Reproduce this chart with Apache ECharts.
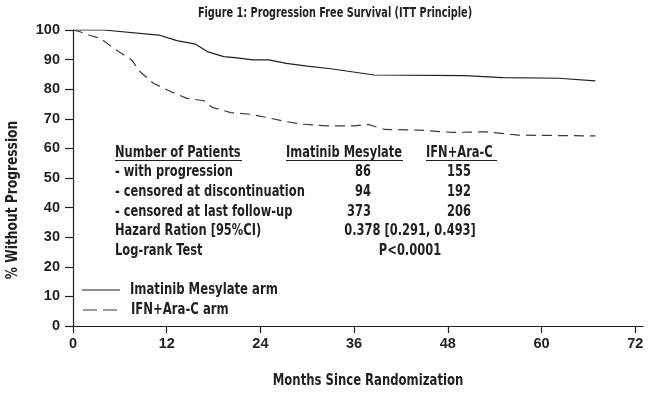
<!DOCTYPE html>
<html>
<head>
<meta charset="utf-8">
<script src="https://cdn.jsdelivr.net/npm/echarts@6/dist/echarts.min.js"></script>
<style>html,body{margin:0;padding:0;background:#fff}#c{width:656px;height:396px}</style>
</head>
<body>
<div id="c"></div>
<script>
// ---- data ----
var titleText = 'Figure 1: Progression Free Survival (ITT Principle)';
var xTicks = [0, 12, 24, 36, 48, 60, 72];
var yTicks = [0, 10, 20, 30, 40, 50, 60, 70, 80, 90, 100];
var imatinibMonths = [0, 3.9, 11, 13.3, 15.7, 17.2, 19.3, 21, 23, 25.1, 27.3, 30, 33, 38.6, 50.2, 55, 62.2, 66.9];
var imatinibPFS    = [100, 100, 98.3, 96.4, 95.2, 92.7, 91.0, 90.6, 89.9, 89.9, 88.7, 87.8, 86.9, 84.8, 84.6, 83.9, 83.7, 82.8];
var ifnMonths = [0, 0.9, 2, 3.5, 5.2, 7.5, 8.6, 10.3, 12.5, 14.6, 16.8, 17.8, 20.2, 22.8, 24.9, 26.8, 29.2, 32.6, 36, 37.8, 39.9, 44.2, 48.5, 52.8, 57, 66.9];
var ifnPFS    = [100, 99.4, 98.3, 97.2, 93.8, 89.9, 85.9, 82.0, 79.2, 76.9, 76.1, 73.9, 72.1, 71.5, 70.4, 69.3, 68.2, 67.6, 67.6, 68.1, 66.4, 66.2, 65.4, 65.6, 64.5, 64.2];
var seriesNames = ['Imatinib Mesylate arm', 'IFN+Ara-C arm'];
var tableHeaders = ['Number of Patients', 'Imatinib Mesylate', 'IFN+Ara-C'];
var rowLabels = ['- with progression', '- censored at discontinuation', '- censored at last follow-up'];
var imatinibCounts = ['86', '94', '373'];
var ifnCounts = ['155', '192', '206'];
var statLabels = ['Hazard Ration [95%CI)', 'Log-rank Test'];
var statValues = ['0.378 [0.291, 0.493]', 'P<0.0001'];
var xTitle = 'Months Since Randomization';
var yTitle = '% Without Progression';

function zip(a, b) { return a.map(function (v, i) { return [v, b[i]]; }); }

var FONT = '"DejaVu Sans Condensed", "Liberation Sans Narrow", sans-serif';
var NUMFONT = '"Liberation Sans", Arial, sans-serif';
var INK = '#231f20';
var DASHINK = '#3a3a3a';
function txt(s, x, y, align, size, sx, rot) {
  return { type: 'text', x: x, y: y, scaleX: sx || 0.85, rotation: rot || 0,
    style: { text: s, font: 'bold ' + (size || 15) + 'px ' + FONT, fill: INK, align: align || 'left', verticalAlign: 'middle' } };
}

var g = [];
var rowY0 = 153, rowStep = 19.6;
g.push(txt(tableHeaders[0], 115, rowY0));
g.push(txt(tableHeaders[1], 286, rowY0));
g.push(txt(tableHeaders[2], 426, rowY0));
[[115, 242], [286, 403], [426, 497]].forEach(function (p) {
  g.push({ type: 'line', shape: { x1: p[0], y1: 160.5, x2: p[1], y2: 160.5 }, style: { stroke: INK, lineWidth: 1.2 } });
});
rowLabels.forEach(function (s, i) {
  var y = rowY0 + rowStep * (i + 1);
  g.push(txt(s, 115, y));
  g.push(txt(imatinibCounts[i], 371, y, 'right'));
  g.push(txt(ifnCounts[i], 471, y, 'right'));
});
statLabels.forEach(function (s, i) {
  var y = rowY0 + rowStep * (i + 4);
  g.push(txt(s, 115, y));
  g.push(txt(statValues[i], 410, y, 'center'));
});
g.push(txt(titleText, 335, 13, 'center', 13.5, 0.8));
g.push(txt(xTitle, 368, 381, 'center', 16, 0.81));
g.push(txt(yTitle, 13, 200, 'center', 16, 0.85, Math.PI / 2));

// legend (line samples + labels)
g.push({ type: 'line', shape: { x1: 82, y1: 290, x2: 120, y2: 290 }, style: { stroke: INK, lineWidth: 1.2 } });
g.push({ type: 'line', shape: { x1: 83, y1: 310, x2: 120, y2: 310 }, style: { stroke: DASHINK, lineWidth: 1.2, lineDash: [14, 6] } });
g.push(txt(seriesNames[0], 130, 290, 'left', 16, 0.81));
g.push(txt(seriesNames[1], 131, 310, 'left', 16, 0.81));

var chart = echarts.init(document.getElementById('c'), null, { renderer: 'canvas' });
chart.setOption({
  animation: false,
  backgroundColor: '#fff',
  grid: { left: 73, right: 13, top: 30, bottom: 70, containLabel: false },
  xAxis: {
    type: 'value', min: 0, max: 73,
    axisLine: { lineStyle: { color: INK, width: 1.2 } },
    axisTick: { show: true, length: 7, inside: false, customValues: xTicks, lineStyle: { color: INK, width: 1.2 } },
    axisLabel: { customValues: xTicks, margin: 10, color: INK, fontFamily: NUMFONT, fontWeight: 'bold', fontSize: 14.5 },
    splitLine: { show: false }
  },
  yAxis: {
    type: 'value', min: 0, max: 100, interval: 10,
    axisLine: { show: true, lineStyle: { color: INK, width: 1.2 } },
    axisTick: { show: true, length: 8, lineStyle: { color: INK, width: 1.2 } },
    axisLabel: { margin: 13, color: INK, fontFamily: NUMFONT, fontWeight: 'bold', fontSize: 14.5 },
    splitLine: { show: false }
  },
  series: [
    { name: seriesNames[0], type: 'line', symbol: 'none', data: zip(imatinibMonths, imatinibPFS),
      lineStyle: { color: INK, width: 1.2, type: 'solid' } },
    { name: seriesNames[1], type: 'line', symbol: 'none', data: zip(ifnMonths, ifnPFS),
      lineStyle: { color: DASHINK, width: 1.2, type: [10, 6] } }
  ],
  graphic: g
});
</script>
</body>
</html>
